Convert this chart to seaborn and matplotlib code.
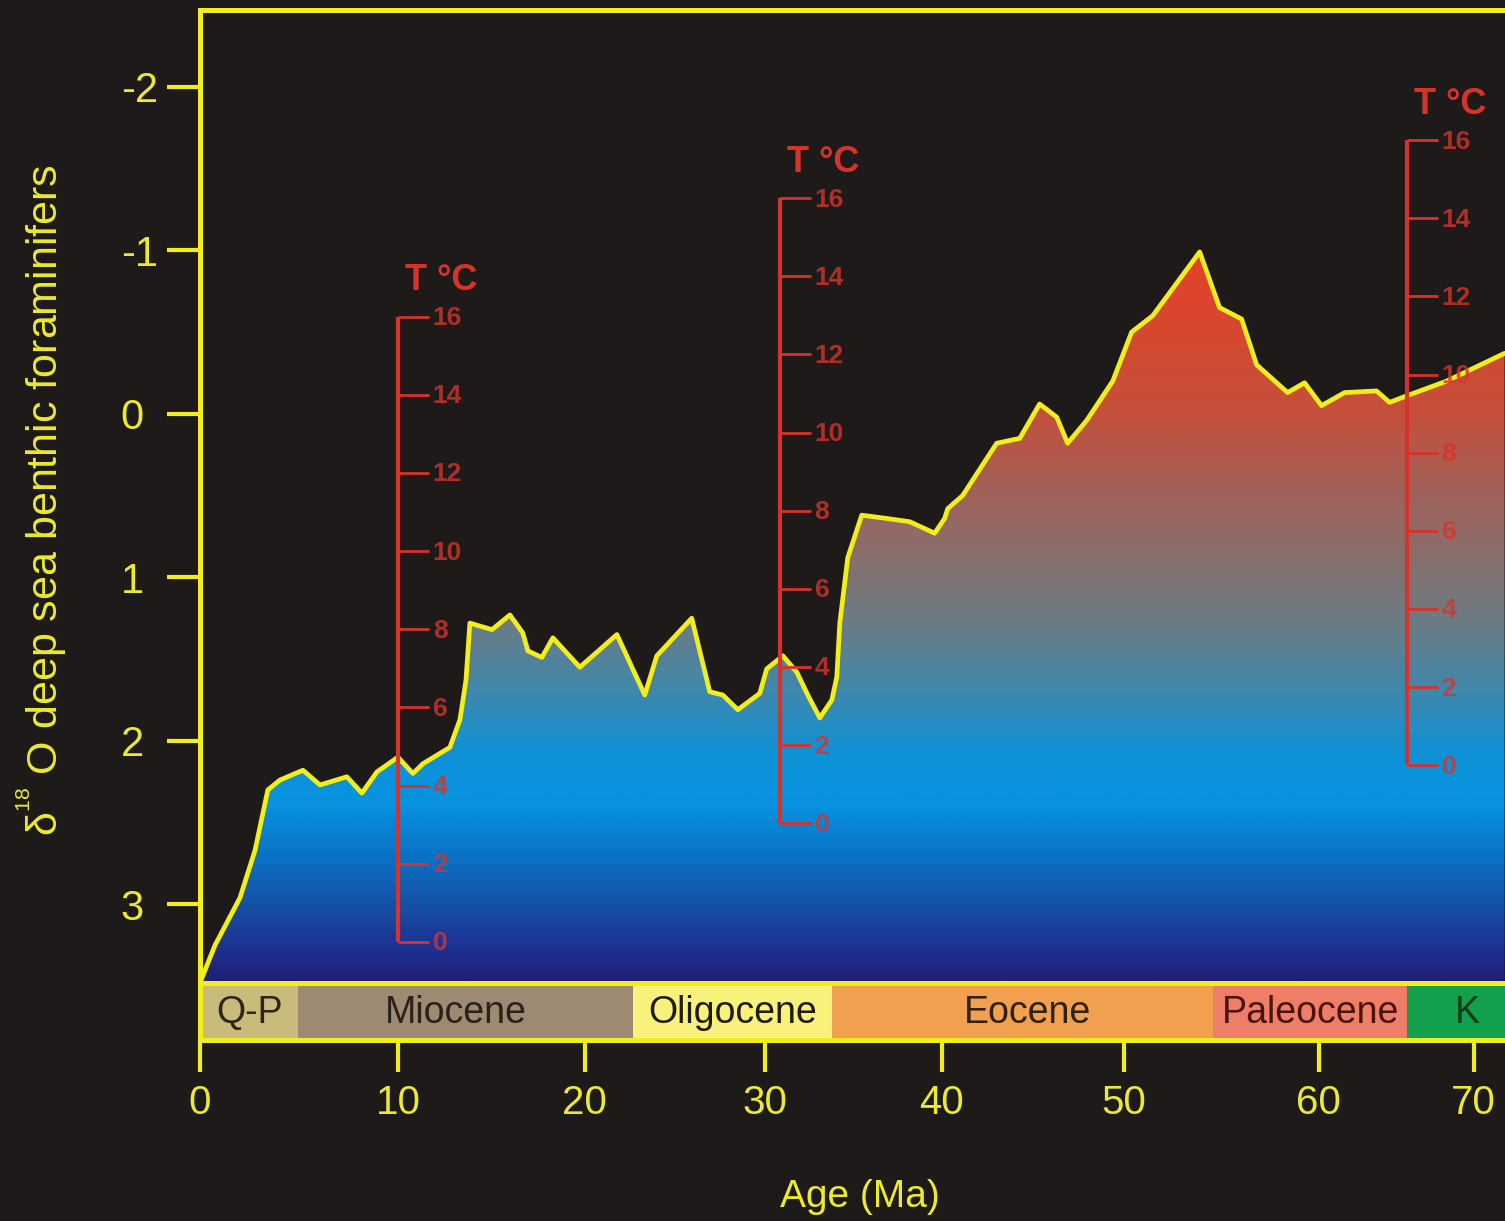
import numpy as np
import matplotlib
matplotlib.use("Agg")
import matplotlib.pyplot as plt
from matplotlib.colors import LinearSegmentedColormap, Normalize
from matplotlib.path import Path
from matplotlib.ticker import FixedLocator
import seaborn as sns

# Deep-sea benthic foraminifer oxygen-isotope record: age (Ma) and delta-18O (per mil)
AGE = [0.0, 0.76, 2.02, 2.78, 3.43, 4.04, 5.20, 6.06, 7.42, 8.18, 8.94, 10.0,
       10.80, 11.34, 12.78, 13.32, 13.64, 13.85, 15.03, 15.99, 16.68, 16.95,
       17.70, 18.29, 19.73, 21.78, 23.33, 24.0, 25.94, 26.94, 27.67, 28.5,
       29.72, 30.11, 31.02, 31.81, 32.43, 33.11, 33.79, 34.07, 34.24, 34.69,
       35.48, 36.89, 38.19, 39.6, 40.16, 40.33, 41.15, 43.02, 44.29, 45.38,
       46.32, 46.92, 47.97, 49.40, 50.41, 51.49, 53.90, 54.92, 56.05, 56.82,
       58.41, 59.28, 60.19, 61.68, 63.74, 64.58, 65.68, 68.26, 72.0]
D18O = [3.48, 3.25, 2.96, 2.67, 2.30, 2.24, 2.18, 2.27, 2.22, 2.32, 2.19, 2.10,
        2.20, 2.14, 2.04, 1.87, 1.63, 1.28, 1.32, 1.23, 1.34, 1.45,
        1.49, 1.37, 1.55, 1.35, 1.72, 1.48, 1.25, 1.70, 1.72, 1.81,
        1.71, 1.56, 1.48, 1.58, 1.72, 1.86, 1.75, 1.61, 1.28, 0.88,
        0.62, 0.64, 0.66, 0.73, 0.64, 0.58, 0.50, 0.18, 0.15, -0.06,
        0.02, 0.18, 0.04, -0.20, -0.50, -0.60, -0.99, -0.65, -0.58, -0.30,
        -0.13, -0.19, -0.05, -0.13, -0.14, -0.07, -0.11, -0.20, -0.37]

# Geological time divisions
EPOCH_NAMES = ["Q-P", "Miocene", "Oligocene", "Eocene", "Paleocene", "K"]
EPOCH_START = [0.0, 4.95, 22.7, 33.8, 54.6, 65.7]
EPOCH_END = [4.95, 22.7, 33.8, 54.6, 65.7, 73.0]
EPOCH_LABEL_AGE = [2.5, 13.1, 28.2, 44.7, 59.6, 69.6]

# Temperature scales (deg C) set against the isotope axis
T_TICKS = [0, 2, 4, 6, 8, 10, 12, 14, 16]
T_SCALE_AGE = [10.0, 30.85, 65.7]
T_SCALE_D18O_AT_ZERO = [3.23, 2.505, 2.15]
D18O_PER_DEGREE = 0.239

X_TICKS = [0, 10, 20, 30, 40, 50, 60, 70]
Y_TICKS = [-2, -1, 0, 1, 2, 3]

# ---- styling ----
BG = "#1f1a1a"
YELLOW = "#f2ee1c"
TEXT_YELLOW = "#ecea2e"
RED = "#d8332a"
EPOCH_COLORS = ["#c8bb7c", "#9c8a72", "#f8f27c", "#f0a04e", "#ee7e68", "#12a04c"]
EPOCH_TEXT = ["#2a2618", "#2a2218", "#1e1c10", "#2e2012", "#4a1410", "#0c3a1a"]

# the time axis is drawn with a piecewise-linear stretch between decade marks
KNOT_AGE = np.array([0, 10, 20, 30, 40, 50, 60, 70], float)
KNOT_POS = np.array([0, 198, 385, 565, 742, 924, 1119, 1274], float)
S0 = (KNOT_POS[1] - KNOT_POS[0]) / 10.0
S1 = (KNOT_POS[-1] - KNOT_POS[-2]) / 10.0


def age_to_pos(a):
    a = np.asarray(a, float)
    out = np.interp(a, KNOT_AGE, KNOT_POS)
    out = np.where(a < KNOT_AGE[0], KNOT_POS[0] + (a - KNOT_AGE[0]) * S0, out)
    out = np.where(a > KNOT_AGE[-1], KNOT_POS[-1] + (a - KNOT_AGE[-1]) * S1, out)
    return out


def pos_to_age(p):
    p = np.asarray(p, float)
    out = np.interp(p, KNOT_POS, KNOT_AGE)
    out = np.where(p < KNOT_POS[0], KNOT_AGE[0] + (p - KNOT_POS[0]) / S0, out)
    out = np.where(p > KNOT_POS[-1], KNOT_AGE[-1] + (p - KNOT_POS[-1]) / S1, out)
    return out


sns.set_theme(style="dark")
plt.rcParams["font.family"] = ["Liberation Sans", "DejaVu Sans"]
plt.rcParams["mathtext.fontset"] = "custom"
plt.rcParams["mathtext.rm"] = "Liberation Sans"
plt.rcParams["mathtext.it"] = "Liberation Sans:italic"
plt.rcParams["axes.unicode_minus"] = False

W, H = 1505, 1221
fig = plt.figure(figsize=(W / 100, H / 100), dpi=100, facecolor=BG)
ax = fig.add_axes([200 / W, 1 - 1040 / H, 1320 / W, 1030 / H], facecolor=BG)
ax.set_xscale("function", functions=(age_to_pos, pos_to_age))

Y_TOP, Y_FLOOR, Y_BOTTOM = -2.47, 3.48, 3.83
X_MAX = 73.0

# vertical colour ramp under the curve
ramp = [(-2.47, "#e8402a"), (-1.0, "#e4412b"), (-0.5, "#d6482f"), (0.0, "#c4503c"),
        (0.5, "#a0625c"), (0.9, "#86706e"), (1.3, "#6a7c86"), (1.7, "#3f88ac"),
        (2.1, "#0e92d8"), (2.4, "#0892e0"), (2.7, "#0a74c8"), (3.0, "#1552a8"),
        (3.25, "#1c3496"), (3.48, "#221e78")]
cmap = LinearSegmentedColormap.from_list(
    "ramp", [((v - Y_TOP) / (Y_FLOOR - Y_TOP), c) for v, c in ramp])
grad = np.linspace(Y_TOP, Y_FLOOR, 800)[:, None]
im = ax.imshow(grad, cmap=cmap, norm=Normalize(Y_TOP, Y_FLOOR),
               extent=(0, X_MAX, Y_FLOOR, Y_TOP), origin="upper",
               aspect="auto", interpolation="bilinear", zorder=1)
area = ax.fill_between(AGE, D18O, Y_FLOOR, color="none", lw=0)
im.set_clip_path(area.get_paths()[0], ax.transData)

# isotope curve
sns.lineplot(x=AGE, y=D18O, ax=ax, color=YELLOW, linewidth=3.4, sort=False,
             zorder=4)

# temperature scales
tick_marker = Path([(0, 0), (1, 0)])
for age0, d0 in zip(T_SCALE_AGE, T_SCALE_D18O_AT_ZERO):
    d = [d0 - t * D18O_PER_DEGREE for t in T_TICKS]
    ax.plot([age0, age0], [d[0], d[-1]], color=RED, lw=3.0,
            solid_capstyle="butt", zorder=6)
    ax.plot([age0] * len(d), d, ls="none", marker=tick_marker, ms=44,
            mew=2.0, mec=RED, zorder=6)
    for t, dv in zip(T_TICKS, d):
        ax.annotate(str(t), (age0, dv), xytext=(25, -1), textcoords="offset points",
                    ha="left", va="center", fontsize=19, fontweight="bold",
                    color=RED, alpha=0.8, zorder=6)
    ax.annotate("T °C", (age0, d[-1]), xytext=(5, 19), textcoords="offset points",
                ha="left", va="baseline", fontsize=26, fontweight="bold",
                color=RED, zorder=6)

# epoch bar
for a0, a1, c in zip(EPOCH_START, EPOCH_END, EPOCH_COLORS):
    ax.fill_between([a0, a1], [Y_FLOOR] * 2, [Y_BOTTOM] * 2, color=c, lw=0,
                    zorder=5)
for name, a, tc in zip(EPOCH_NAMES, EPOCH_LABEL_AGE, EPOCH_TEXT):
    ax.text(a, (Y_FLOOR + Y_BOTTOM) / 2 + 0.01, name, ha="center", va="center",
            fontsize=27, color=tc, zorder=7)
ax.axhline(Y_FLOOR, color=YELLOW, lw=3.6, zorder=8)

# axes frame and ticks
ax.set_xlim(0, X_MAX)
ax.set_ylim(Y_BOTTOM, Y_TOP)
ax.grid(False)
for side, sp in ax.spines.items():
    sp.set_visible(True)
    sp.set_color(YELLOW)
    sp.set_linewidth(3.6)
    sp.set_zorder(9)

ax.xaxis.set_major_locator(FixedLocator(X_TICKS))
ax.set_xticklabels([str(v) for v in X_TICKS])
ax.set_yticks(Y_TICKS)
ax.set_yticklabels([str(v) for v in Y_TICKS])
ax.xaxis.set_minor_locator(FixedLocator([]))
ax.tick_params(axis="x", direction="out", length=23, width=3, color=YELLOW,
               labelcolor=TEXT_YELLOW, labelsize=29, pad=9, bottom=True)
ax.tick_params(axis="y", direction="out", length=24, width=3, color=YELLOW,
               labelcolor=TEXT_YELLOW, labelsize=30, pad=33, left=True)
for lab in ax.get_yticklabels():
    lab.set_horizontalalignment("left")

ax.set_xlabel("")
ax.set_ylabel("")
fig.text(860 / W, 1 - 1197 / H, "Age (Ma)", ha="center", va="center",
         fontsize=28, color=TEXT_YELLOW)
fig.text(42 / W, 1 - 500 / H, "δ$^{{}^{18}}$ O deep sea benthic foraminifers",
         rotation=90, ha="center", va="center", fontsize=31, color=TEXT_YELLOW)

fig.savefig("out.png", dpi=100, facecolor=BG)
